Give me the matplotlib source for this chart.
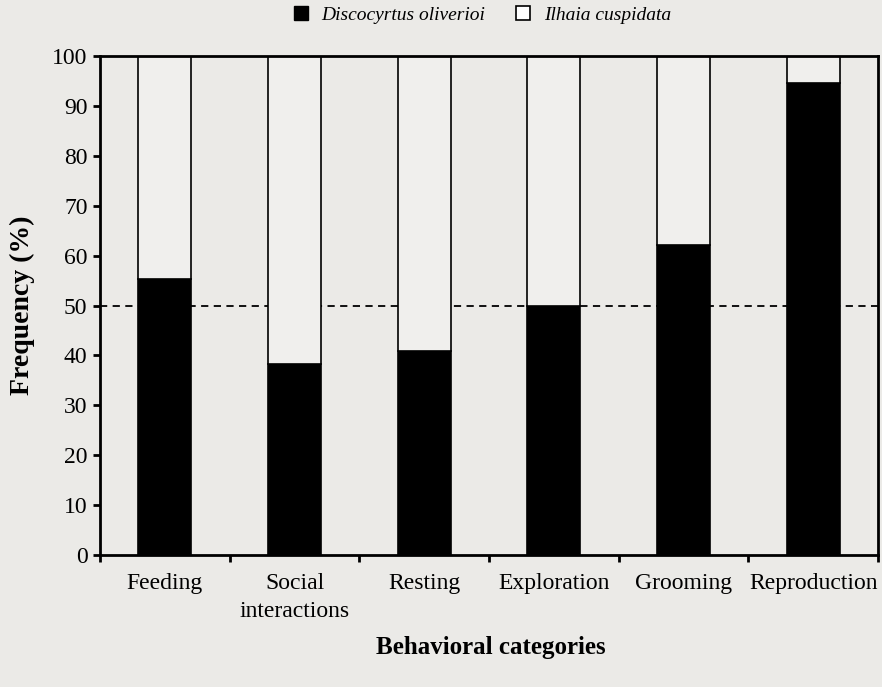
import numpy as np
import matplotlib

matplotlib.use("Agg")
import matplotlib.pyplot as plt
from matplotlib.patches import Patch

# Datos
categorias = ["Feeding", "Social\ninteractions", "Resting", "Exploration",
              "Grooming", "Reproduction"]
discocyrtus = [55.3, 38.3, 40.9, 50.0, 62.1, 94.6]
ilhaia = [100 - v for v in discocyrtus]

FONDO = "#ebeae7"
plt.rcParams["font.family"] = ["Liberation Serif", "DejaVu Serif"]

fig = plt.figure(figsize=(8.82, 6.87), dpi=100, facecolor=FONDO)
ax = fig.add_axes([0.1134, 0.1921, 0.8821, 0.7264], facecolor=FONDO)

x = np.arange(len(categorias))
ancho = 0.41

ax.axhline(50, color="black", lw=1.3, ls=(0, (4, 3)), zorder=1)
ax.bar(x, discocyrtus, width=ancho, color="black", edgecolor="black",
       lw=1.2, zorder=2, label="Discocyrtus oliverioi")
ax.bar(x, ilhaia, width=ancho, bottom=discocyrtus, color="#f0efed",
       edgecolor="black", lw=1.2, zorder=2, label="Ilhaia cuspidata")

ax.set_xlim(-0.5, len(categorias) - 0.5)
ax.set_ylim(0, 100)
ax.set_yticks(np.arange(0, 101, 10))
ax.set_xticks(x)
ax.set_xticklabels(categorias, fontsize=17, linespacing=1.45)
ax.set_xticks(np.arange(-0.5, len(categorias)), minor=True)
ax.tick_params(axis="x", which="major", length=0, pad=13)
ax.tick_params(axis="x", which="minor", length=5, width=2, direction="out")
ax.tick_params(axis="y", labelsize=17, length=5, width=2, direction="out",
               pad=4)

for lado in ["left", "right", "top", "bottom"]:
    ax.spines[lado].set_linewidth(2)

ax.set_ylabel("Frequency (%)", fontsize=20, fontweight="bold", labelpad=12)
fig.text(0.556, 0.058, "Behavioral categories", fontsize=18,
         fontweight="bold", ha="center", va="center")

handles = [Patch(facecolor="black", edgecolor="black"),
           Patch(facecolor="white", edgecolor="black", lw=1.2)]
fig.legend(handles, ["Discocyrtus oliverioi", "Ilhaia cuspidata"],
           loc="center", bbox_to_anchor=(0.547, 0.978), ncol=2,
           frameon=False, prop={"style": "italic", "size": 14},
           handlelength=0.7, handleheight=0.7, columnspacing=1.6,
           handletextpad=0.7)

fig.savefig("out.png", dpi=100, facecolor=FONDO)
